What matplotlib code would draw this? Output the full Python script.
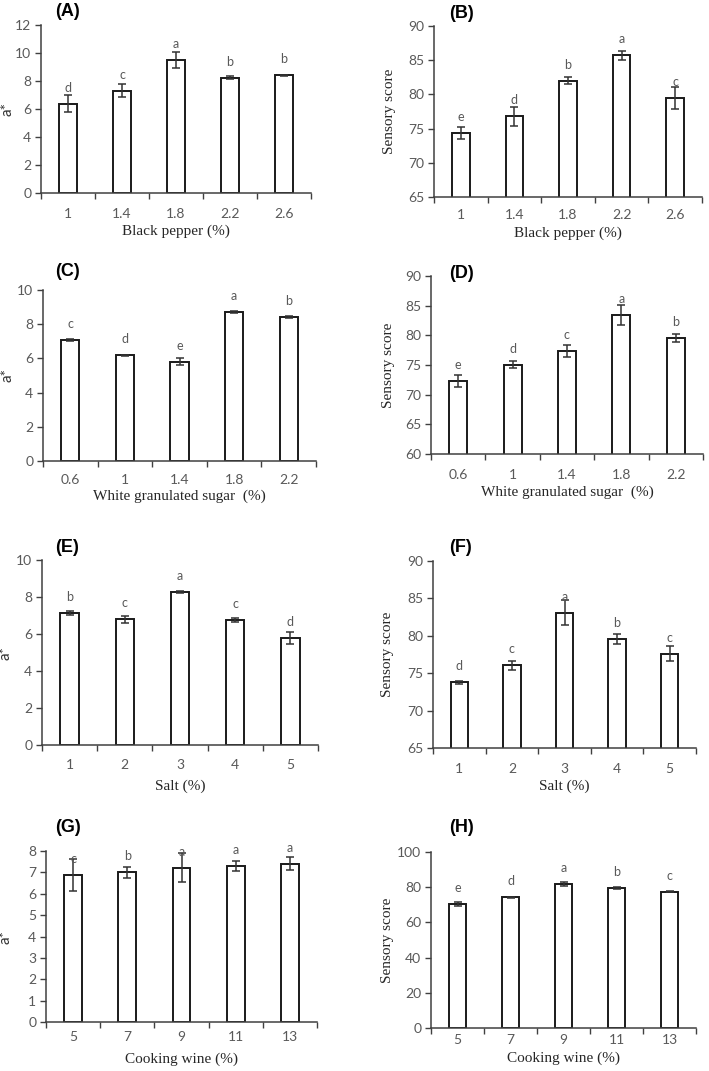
import matplotlib
matplotlib.use('Agg')
import matplotlib.pyplot as plt
import numpy as np

# ---- data ----
pepper = ['1', '1.4', '1.8', '2.2', '2.6']
sugar = ['0.6', '1', '1.4', '1.8', '2.2']
salt = ['1', '2', '3', '4', '5']
wine = ['5', '7', '9', '11', '13']

a_pepper = [6.37, 7.32, 9.5, 8.24, 8.41]
a_pepper_err = [0.6, 0.45, 0.6, 0.1, 0.04]
a_pepper_sig = ['d', 'c', 'a', 'b', 'b']

s_pepper = [74.4, 76.8, 82.0, 85.7, 79.5]
s_pepper_err = [0.9, 1.4, 0.5, 0.7, 1.6]
s_pepper_sig = ['e', 'd', 'b', 'a', 'c']

a_sugar = [7.07, 6.17, 5.8, 8.72, 8.43]
a_sugar_err = [0.05, 0.02, 0.2, 0.07, 0.05]
a_sugar_sig = ['c', 'd', 'e', 'a', 'b']

s_sugar = [72.3, 75.05, 77.35, 83.45, 79.5]
s_sugar_err = [1.0, 0.55, 1.0, 1.65, 0.7]
s_sugar_sig = ['e', 'd', 'c', 'a', 'b']

a_salt = [7.12, 6.79, 8.27, 6.76, 5.78]
a_salt_err = [0.1, 0.18, 0.05, 0.12, 0.34]
a_salt_sig = ['b', 'c', 'a', 'c', 'd']

s_salt = [73.8, 76.05, 83.1, 79.55, 77.6]
s_salt_err = [0.2, 0.6, 1.7, 0.65, 1.0]
s_salt_sig = ['d', 'c', 'a', 'b', 'c']

a_wine = [6.88, 7.0, 7.22, 7.3, 7.41]
a_wine_err = [0.75, 0.26, 0.67, 0.23, 0.32]
a_wine_sig = ['c', 'b', 'a', 'a', 'a']

s_wine = [70.3, 74.2, 81.8, 79.4, 77.3]
s_wine_err = [1.2, 0.3, 1.2, 0.5, 0.3]
s_wine_sig = ['e', 'd', 'a', 'b', 'c']

W, H = 709, 1071
fig = plt.figure(figsize=(W / 100, H / 100), dpi=100)
fig.patch.set_facecolor('white')

GRAY = '#595959'
AX = '#404040'


def px_axes(left, right, top, bottom):
    # pixel box -> figure fraction
    return fig.add_axes([left / W, 1 - bottom / H, (right - left) / W, (bottom - top) / H])


def panel(box, label, lab_xy, offs, cats, vals, errs, sig, ylim, ystep, xlabel, ylabel):
    # offs = (ylabel left offset, tick label drop, xlabel drop) in pixels
    ylab_off, tick_off, xlab_off = offs
    ax = px_axes(*box)
    x = np.arange(len(cats))
    ax.bar(x, vals, width=0.33, color='white', edgecolor='#1a1a1a', linewidth=1.4, zorder=2)
    ax.errorbar(x, vals, yerr=errs, fmt='none', ecolor='#333333', elinewidth=1.1,
                capsize=3, capthick=1.1, zorder=3)
    # significance letters sit a fixed distance above the bar top
    for xi, v, s in zip(x, vals, sig):
        ax.annotate(s, (xi, v), xytext=(0, 16), textcoords='offset pixels',
                    ha='center', va='center', fontsize=9, color=GRAY, family='Lato')
    ax.set_xlim(-0.5, len(cats) - 0.5)
    ax.set_ylim(*ylim)
    ax.set_yticks(np.arange(ylim[0], ylim[1] + 0.01, ystep))
    ax.set_xticks(np.arange(-0.5, len(cats), 1.0))
    ax.set_xticklabels([])
    ax.set_xticks(x, minor=True)
    ax.set_xticklabels(cats, minor=True)
    ax.tick_params(axis='x', which='minor', length=0, pad=(tick_off - 4) / 1.39,
                   labelsize=10, labelcolor=GRAY)
    ax.tick_params(axis='x', which='major', length=4, width=1, color=AX, direction='out')
    ax.tick_params(axis='y', length=4, width=1, color=AX, labelsize=10, labelcolor=GRAY, pad=3)
    for t in ax.get_xticklabels(minor=True) + ax.get_yticklabels():
        t.set_family('Lato')
    for sp in ['top', 'right']:
        ax.spines[sp].set_visible(False)
    for sp in ['left', 'bottom']:
        ax.spines[sp].set_color(AX)
        ax.spines[sp].set_linewidth(1.1)
    ax.set_xlabel(xlabel, family='Liberation Serif', fontsize=11, color='#262626')
    ax.xaxis.set_label_coords(0.5, -(xlab_off - 5) / (box[3] - box[2]))
    if ylabel == 'a*':
        ax.set_ylabel(ylabel, family='Lato', fontsize=11, color='#333333')
    else:
        ax.set_ylabel(ylabel, family='Liberation Serif', fontsize=11, color='#262626')
    ax.yaxis.set_label_coords(-ylab_off / (box[1] - box[0]), 0.5)
    fig.text(lab_xy[0] / W, 1 - lab_xy[1] / H, label, ha='center', va='center',
             fontsize=13, fontweight='bold', family='Liberation Sans')
    return ax


panel((41, 311, 25, 193), '(A)', (67, 12), (26, 19, 37), pepper, a_pepper, a_pepper_err,
      a_pepper_sig, (0, 12), 2, 'Black pepper (%)', 'a*')
panel((434, 702, 26, 197), '(B)', (461, 13), (38, 16, 35), pepper, s_pepper, s_pepper_err,
      s_pepper_sig, (65, 90), 5, 'Black pepper (%)', 'Sensory score')
panel((43, 316, 290, 461), '(C)', (68, 272), (28, 17, 34), sugar, a_sugar, a_sugar_err,
      a_sugar_sig, (0, 10), 2, 'White granulated sugar  (%)', 'a*')
panel((431, 703, 276, 454), '(D)', (461, 273), (36, 19, 37), sugar, s_sugar, s_sugar_err,
      s_sugar_sig, (60, 90), 5, 'White granulated sugar  (%)', 'Sensory score')
panel((42, 318, 560, 745), '(E)', (67, 548), (29, 18, 40), salt, a_salt, a_salt_err,
      a_salt_sig, (0, 10), 2, 'Salt (%)', 'a*')
panel((433, 696, 561, 748), '(F)', (461, 548), (39, 19, 37), salt, s_salt, s_salt_err,
      s_salt_sig, (65, 90), 5, 'Salt (%)', 'Sensory score')
panel((46, 317, 851, 1022), '(G)', (68, 828), (33, 13, 36), wine, a_wine, a_wine_err,
      a_wine_sig, (0, 8), 1, 'Cooking wine (%)', 'a*')
panel((431, 696, 852, 1028), '(H)', (461, 828), (37, 10, 29), wine, s_wine, s_wine_err,
      s_wine_sig, (0, 100), 20, 'Cooking wine (%)', 'Sensory score')

fig.savefig('out.png', dpi=100, facecolor='white')
